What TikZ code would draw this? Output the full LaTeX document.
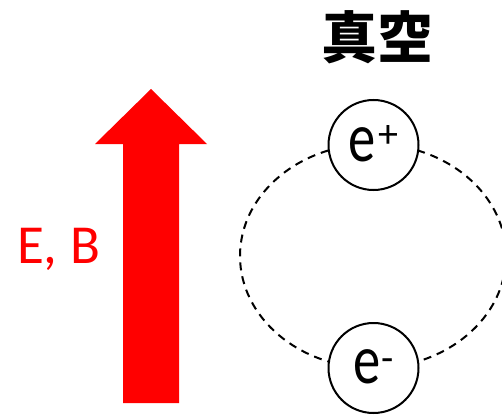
\documentclass[tikz,border=0pt]{standalone}
\usepackage{fontspec}
\setmainfont{Carlito}
\newfontfamily\efont[FakeStretch=0.78]{Carlito}
\newfontfamily\cjk{Noto Sans CJK JP}
\newcommand{\chargesup}[2]{\raisebox{#2}{\rmfamily\fontsize{40}{40}\selectfont #1}}
\begin{document}
\begin{tikzpicture}[x=1pt,y=-1pt,
  particle/.style={circle,draw=black,fill=white,line width=2pt,minimum size=90pt,inner sep=0pt,
    font=\efont\fontsize{70}{70}\selectfont},
  field/.style={fill=red,draw=none},
  orbit/.style={draw=black,line width=2pt,dash pattern=on 8pt off 6pt}]
\useasboundingbox (0,0) rectangle (502,414);
\fill[field] (123,403) -- (123,144) -- (95,144) -- (151,89) -- (207,144) -- (179,144) -- (179,403) -- cycle;
\node[text=red,font=\fontsize{55}{60}\selectfont,anchor=base,inner sep=0pt] (eb) at (58.5,263) {E, B};
\node[font=\cjk\bfseries\fontsize{56}{60}\selectfont] (title) at (377,37) {真空};
\draw[orbit] (373,256) ellipse [x radius=133pt, y radius=112pt];
\node[particle] (eplus) at (373.5,145) {\raisebox{3pt}{e\hspace{2pt}\chargesup{+}{14pt}}};
\node[particle] (eminus) at (373.5,368) {\raisebox{3pt}{e\hspace{1pt}\chargesup{-}{12pt}}};
\end{tikzpicture}
\end{document}
